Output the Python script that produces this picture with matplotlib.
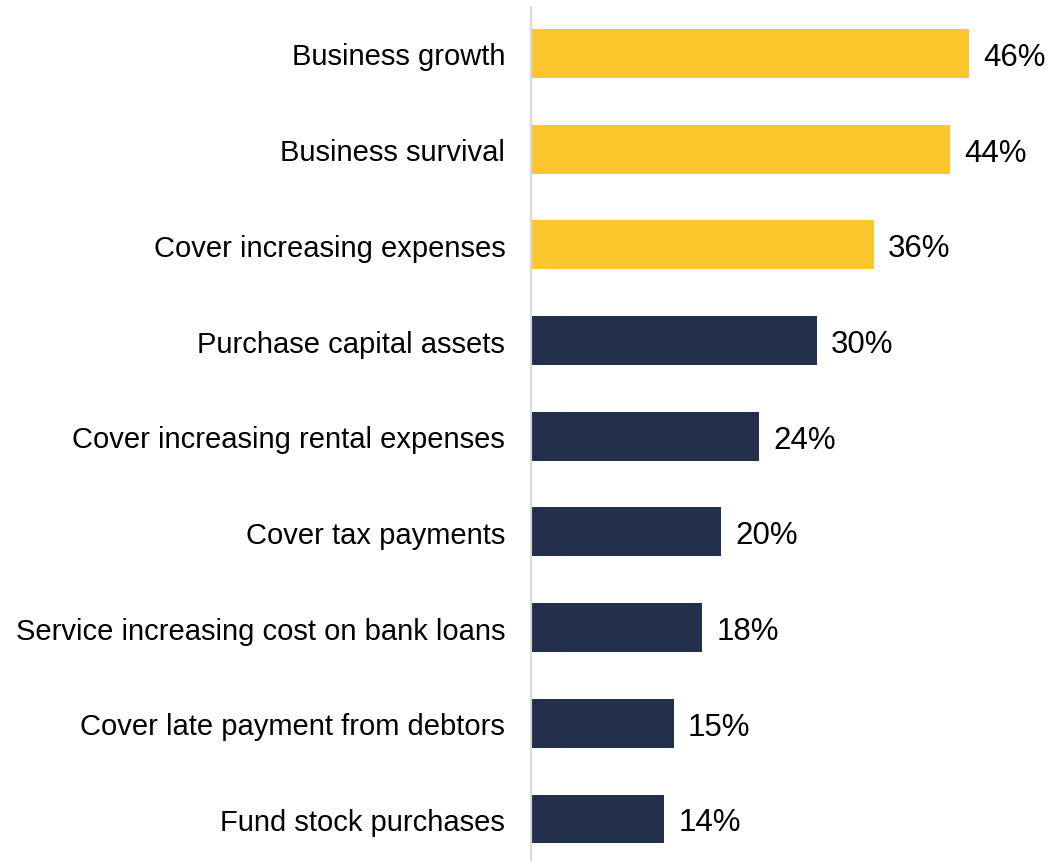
import matplotlib
matplotlib.use("Agg")
import matplotlib.pyplot as plt

categories = [
    "Business growth",
    "Business survival",
    "Cover increasing expenses",
    "Purchase capital assets",
    "Cover increasing rental expenses",
    "Cover tax payments",
    "Service increasing cost on bank loans",
    "Cover late payment from debtors",
    "Fund stock purchases",
]
values = [46, 44, 36, 30, 24, 20, 18, 15, 14]
highlight = [True, True, True, False, False, False, False, False, False]

YELLOW = "#FCC62D"
NAVY = "#22304C"

plt.rcParams["font.family"] = ["Liberation Sans", "DejaVu Sans"]

fig = plt.figure(figsize=(10.56, 8.62), dpi=100)
ax = fig.add_axes([531 / 1056, 0.0, 523.6 / 1056, 854 / 862])

ypos = list(range(len(categories)))
colors = [YELLOW if h else NAVY for h in highlight]
ax.barh(ypos, values, height=0.51, color=colors)

ax.set_xlim(0, 55)
ax.set_ylim(8.44, -0.486)

for y, v in zip(ypos, values):
    ax.text(v + 1.5, y, f"{v}%", va="center_baseline", ha="left",
            fontsize=22.5, color="#000000")

ax.set_yticks(ypos)
ax.set_yticklabels(categories, fontsize=21)
ax.tick_params(axis="y", length=0, pad=18.5)
ax.set_xticks([])

for side in ["top", "right", "bottom"]:
    ax.spines[side].set_visible(False)
ax.spines["left"].set_color("#D9D9D9")
ax.spines["left"].set_linewidth(1.5)

fig.savefig("out.png", dpi=100)
